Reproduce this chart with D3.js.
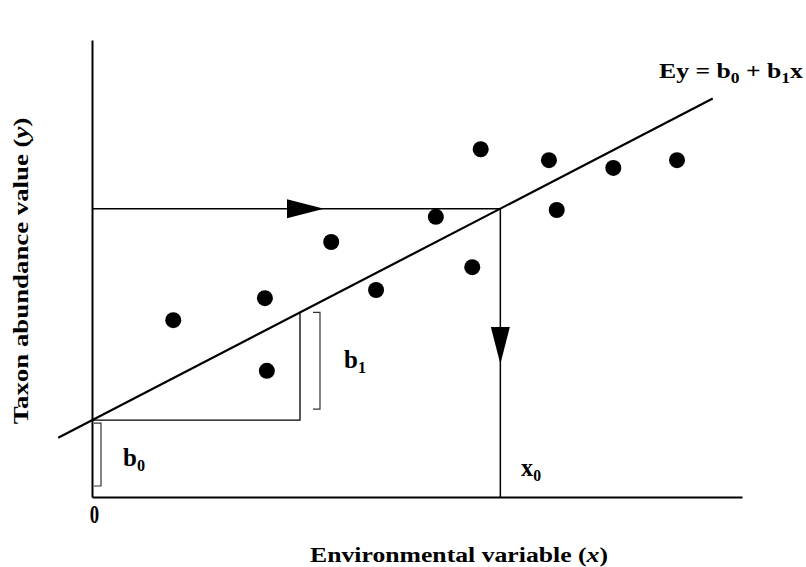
<!DOCTYPE html>
<html>
<head>
<meta charset="utf-8">
<script src="https://cdn.jsdelivr.net/npm/d3@7"></script>
<style>
  html, body { margin: 0; padding: 0; background: #fff; }
  svg { display: block; }
  text { font-family: "Liberation Serif", "Times New Roman", serif; font-weight: bold; fill: #000; }
</style>
</head>
<body>
<svg id="chart" width="806" height="567"></svg>
<script>
// ---- data ----
const xValues = [12.5, 26.6, 26.9, 36.8, 43.7, 52.9, 58.5, 59.8, 70.3, 71.5, 80.2, 90.0];
const yValues = [38.7, 43.5, 27.6, 55.8, 45.3, 61.3, 50.3, 76.1, 73.7, 62.8, 72.0, 73.7];
const b0 = 16.8;          // intercept
const b1 = 0.737;         // slope
const lineXRange = [-5.2, 95.5];
const slopeStepX = 32;    // run used to illustrate b1
const yTarget = 63.1;     // abundance value used for calibration
const xTickValues = [0];
const xLabel = ["Environmental variable (", "x", ")"];
const yLabel = ["Taxon abundance value (", "y", ")"];

// ---- layout ----
const svg = d3.select("#chart");
const x = d3.scaleLinear().domain([0, 100]).range([92, 742]);
const y = d3.scaleLinear().domain([0, 100]).range([497, 40]);
const f = v => b0 + b1 * v;
const x0 = (yTarget - b0) / b1;

// axes
const xAxis = d3.axisBottom(x).tickValues(xTickValues).tickSize(0).tickSizeOuter(0).tickPadding(10).tickFormat(d3.format("d"));
const gx = svg.append("g").attr("transform", `translate(0,${y(0)})`).call(xAxis);
gx.attr("font-size", null).attr("font-family", null);
gx.select(".domain").attr("stroke", "#000").attr("stroke-width", 2);
gx.selectAll(".tick").attr("transform", d => `translate(${x(d) + 2.5},0) scale(0.75,1)`);
gx.selectAll(".tick text").attr("dy", null).attr("y", 26)
  .attr("font-size", 25)
  .style("font-size", "25px")
  .style("font-family", '"Liberation Serif", serif').style("font-weight", "bold");

const yAxis = d3.axisLeft(y).tickValues([]).tickSize(0).tickSizeOuter(0);
const gy = svg.append("g").attr("transform", `translate(${x(0)},0)`).call(yAxis);
gy.select(".domain").attr("stroke", "#000").attr("stroke-width", 2);

// slope triangle
svg.append("path")
  .attr("d", `M${x(0)},${y(b0)} H${x(slopeStepX)} V${y(f(slopeStepX))}`)
  .attr("fill", "none").attr("stroke", "#000").attr("stroke-width", 1.3);

// calibration lines
svg.append("path")
  .attr("d", `M${x(0)},${y(yTarget)} H${x(x0)} V${y(0)}`)
  .attr("fill", "none").attr("stroke", "#000").attr("stroke-width", 1.5);

// arrowheads
const ah = 37, aw = 9.5;
const hx = 287, hy = y(yTarget);
svg.append("path")
  .attr("d", `M${hx},${hy - aw} L${hx + ah},${hy} L${hx},${hy + aw} Z`)
  .attr("fill", "#000");
const vx = x(x0), vy = 327;
svg.append("path")
  .attr("d", `M${vx - aw},${vy} L${vx},${vy + ah} L${vx + aw},${vy} Z`)
  .attr("fill", "#000");

// regression line
svg.append("line")
  .attr("x1", x(lineXRange[0])).attr("y1", y(f(lineXRange[0])))
  .attr("x2", x(lineXRange[1])).attr("y2", y(f(lineXRange[1])))
  .attr("stroke", "#000").attr("stroke-width", 2.2);

// brackets
function bracket(bx, top, bottom) {
  svg.append("path")
    .attr("d", `M${bx - 7},${top} H${bx} V${bottom} H${bx - 7}`)
    .attr("fill", "none").attr("stroke", "#333").attr("stroke-width", 1.2);
}
bracket(x(slopeStepX) + 20, y(f(slopeStepX)), y(b0) - 11);
bracket(x(0) + 9, y(b0) + 3, y(0) - 11);

// points
svg.append("g").selectAll("circle")
  .data(xValues.map((v, i) => [v, yValues[i]]))
  .join("circle")
  .attr("cx", d => x(d[0])).attr("cy", d => y(d[1]))
  .attr("r", 8).attr("fill", "#000");

// stretch text horizontally to a target width
function fit(t, pre, target, post) {
  const w = t.node().getComputedTextLength();
  const k = target / w;
  t.attr("transform", `${pre} scale(${k},1)${post || ""}`);
}

// labels with subscripts
function subLabel(px, py, base, sub, size, target) {
  const t = svg.append("text").attr("x", 0).attr("y", 0).style("font-size", size + "px");
  t.append("tspan").text(base);
  t.append("tspan").text(sub).style("font-size", (size * 0.65) + "px").attr("dy", size * 0.2);
  fit(t, `translate(${px},${py})`, target);
  return t;
}
subLabel(123, 466, "b", "0", 24.5, 22);
subLabel(344, 368, "b", "1", 24.5, 22);
subLabel(521, 476, "x", "0", 24.5, 20);

// equation
const eq = svg.append("text").attr("x", 0).attr("y", 0).style("font-size", "22px");
eq.append("tspan").text("Ey = b");
eq.append("tspan").text("0").style("font-size", "15px").attr("dy", 5);
eq.append("tspan").text(" + b").attr("dy", -5);
eq.append("tspan").text("1").style("font-size", "15px").attr("dy", 5);
eq.append("tspan").text("x").attr("dy", -5);
fit(eq, "translate(659,78)", 144);

// axis titles
function titled(parts, size) {
  const t = svg.append("text").attr("x", 0).attr("y", 0).attr("text-anchor", "middle").style("font-size", size + "px");
  t.append("tspan").text(parts[0]);
  t.append("tspan").text(parts[1]).attr("font-style", "italic");
  t.append("tspan").text(parts[2]);
  return t;
}
const xt = titled(xLabel, 21);
fit(xt, "translate(459,562)", 298);
const yt = titled(yLabel, 21);
fit(yt, "translate(28,271) rotate(-90)", 307);
</script>
</body>
</html>
